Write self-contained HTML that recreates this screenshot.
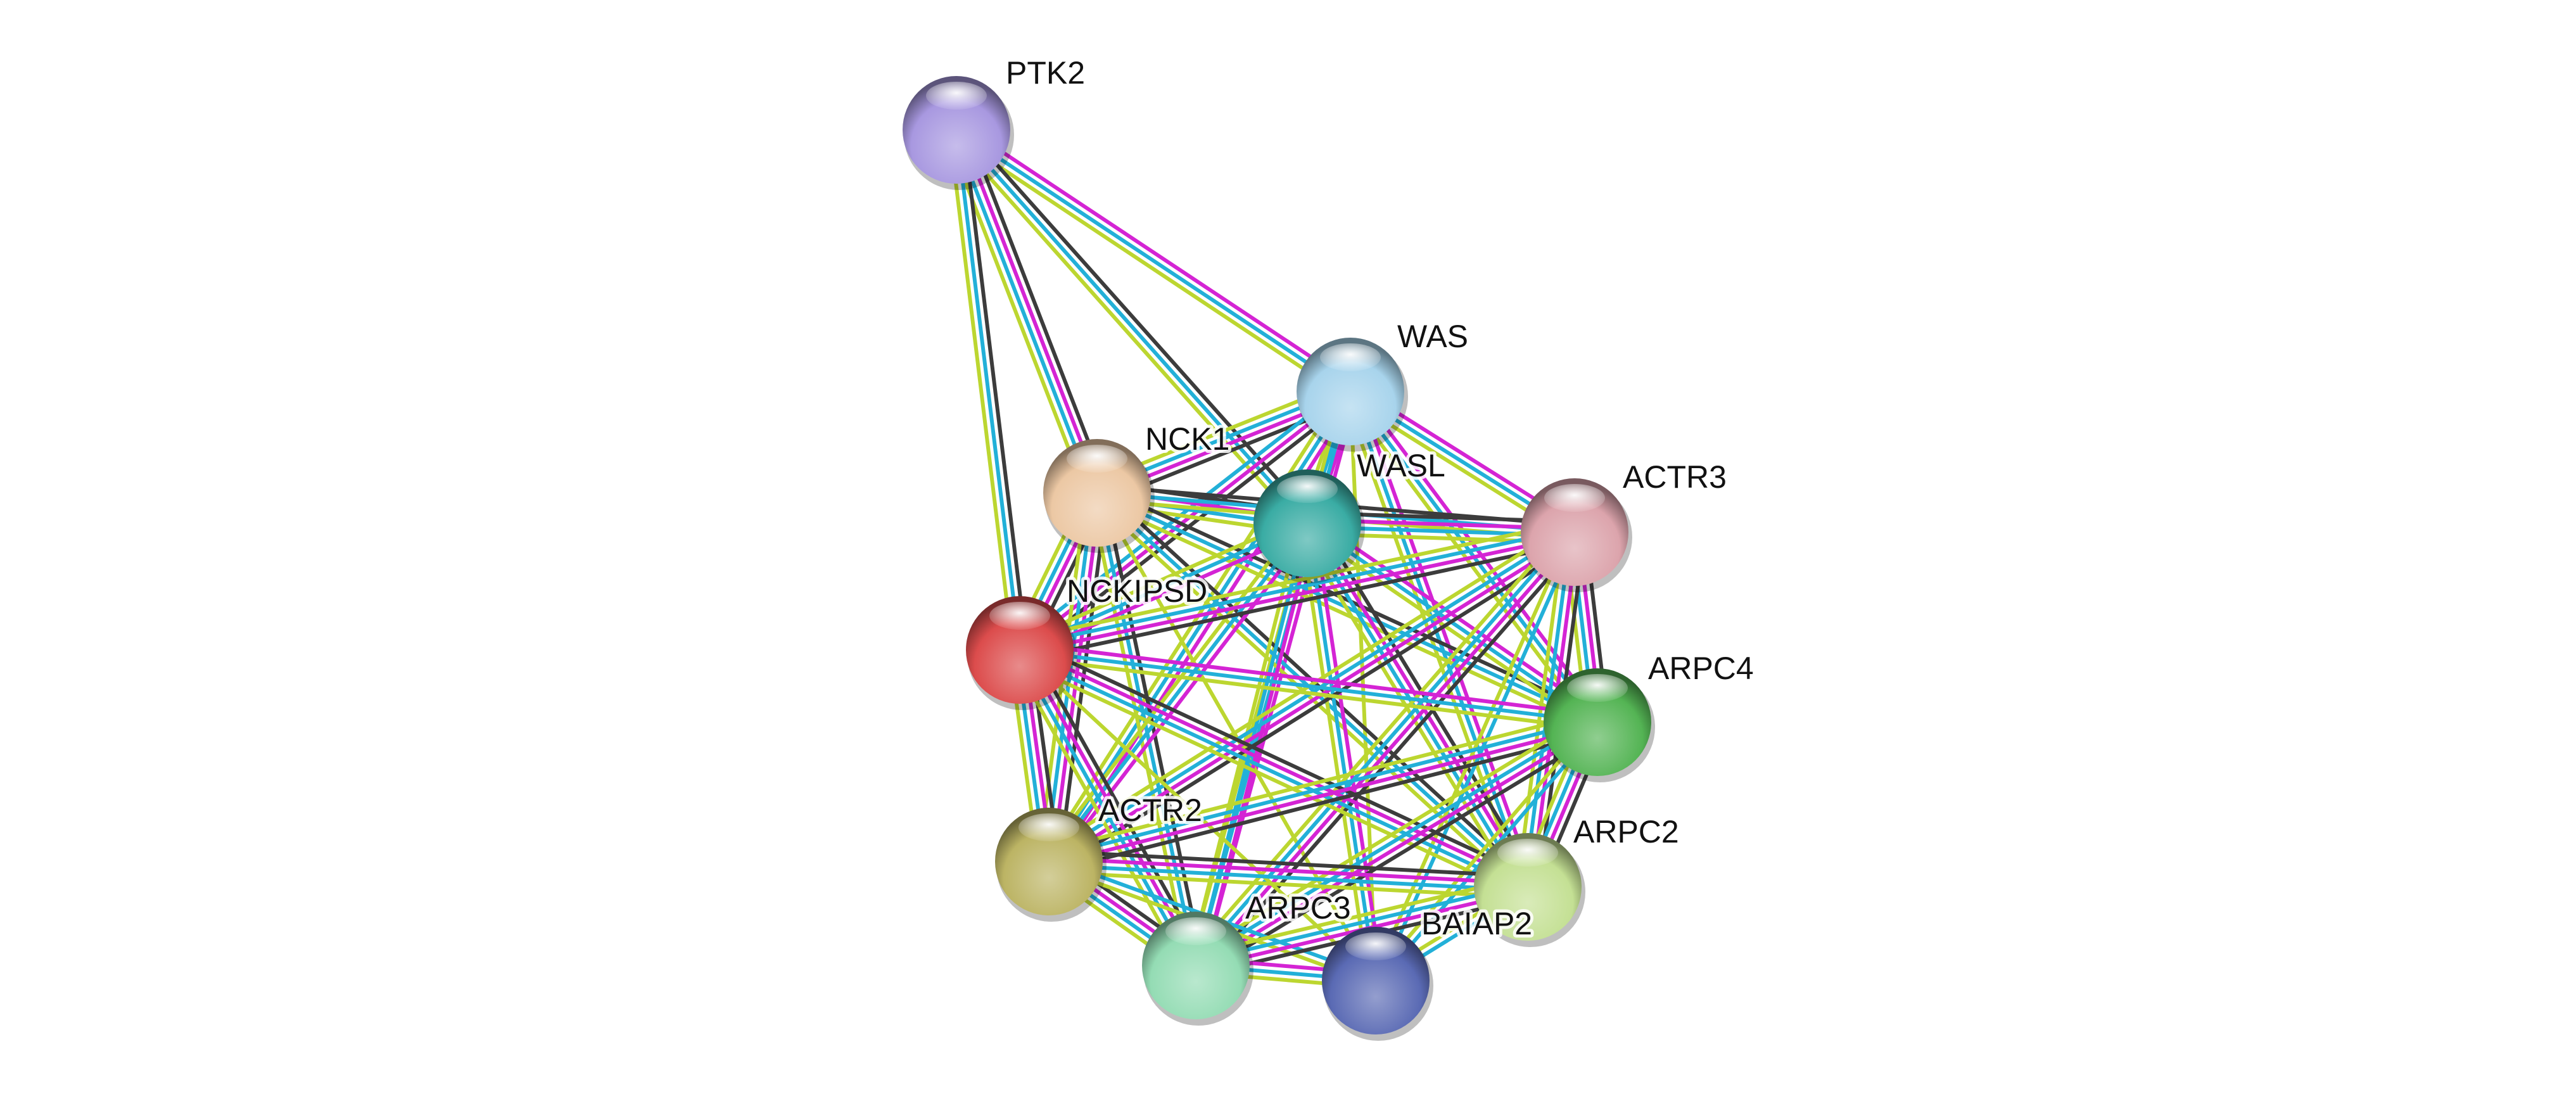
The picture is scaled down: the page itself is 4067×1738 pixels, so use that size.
<!DOCTYPE html>
<html><head><meta charset="utf-8"><style>
html,body{margin:0;padding:0;background:#fff;}
svg{display:block;}
text{font-family:"Liberation Sans",sans-serif;font-size:50px;fill:#111;paint-order:stroke;stroke:rgba(255,255,255,0.85);stroke-width:10px;stroke-linejoin:round;}
</style></head><body>
<svg id="s" width="4067" height="1738" viewBox="0 0 4067 1738" xmlns="http://www.w3.org/2000/svg">
<defs id="d"></defs>
<g id="e"></g>
<g id="n"></g>
<g id="t">
<text x="1588" y="132">PTK2</text>
<text x="2206" y="548">WAS</text>
<text x="1808" y="710">NCK1</text>
<text x="2142" y="752">WASL</text>
<text x="2562" y="770">ACTR3</text>
<text x="1684" y="950">NCKIPSD</text>
<text x="2602" y="1072">ARPC4</text>
<text x="1734" y="1296">ACTR2</text>
<text x="2484" y="1330">ARPC2</text>
<text x="1966" y="1450">ARPC3</text>
<text x="2244" y="1475">BAIAP2</text>
</g>
</svg>
<script>
var N={PTK2:[1510,205,'#a898e0'],WAS:[2132,618,'#a8d4ec'],NCK1:[1732,778,'#ecc8a4'],WASL:[2064,826,'#3aaca4'],ACTR3:[2486,840,'#dca4ac'],NCKIPSD:[1610,1026,'#dc4c4c'],ARPC4:[2522,1140,'#54b454'],ACTR2:[1656,1360,'#bcb464'],ARPC2:[2412,1400,'#c4e094'],ARPC3:[1888,1524,'#94dcb4'],BAIAP2:[2172,1548,'#5a6ab4']};
var Y='#bcd630',C='#22b0d8',M='#d424d4',K='#3c3c3c';
var E=[
['PTK2','WAS',[M,C,Y]],['PTK2','WASL',[K,C,Y]],['PTK2','NCK1',[K,M,C,Y]],['PTK2','NCKIPSD',[K,C,Y]],
['WAS','NCK1',[K,M,C,Y]],['WAS','WASL',[M,C,Y]],['WAS','ACTR3',[M,C,Y]],['WAS','NCKIPSD',[K,M,C]],['WAS','ARPC4',[M,C,Y]],['WAS','ACTR2',[M,C,Y]],['WAS','ARPC2',[M,C,Y]],['WAS','ARPC3',[M,C,Y]],['WAS','BAIAP2',[Y]],
['NCK1','WASL',[K,M,C,Y]],['NCK1','ACTR3',[K,C,Y]],['NCK1','NCKIPSD',[K,M,C,Y]],['NCK1','ARPC4',[K,C,Y]],['NCK1','ACTR2',[K,M,C,Y]],['NCK1','ARPC2',[K,C,Y]],['NCK1','ARPC3',[K,C,Y]],['NCK1','BAIAP2',[Y]],
['WASL','ACTR3',[K,M,C,Y]],['WASL','NCKIPSD',[M,C,Y]],['WASL','ARPC4',[M,C,Y]],['WASL','ACTR2',[M,C,Y]],['WASL','ARPC2',[K,M,C,Y]],['WASL','ARPC3',[M,C,Y]],['WASL','BAIAP2',[M,C,Y]],
['ACTR3','NCKIPSD',[K,M,C,Y]],['ACTR3','ARPC4',[K,M,C,Y]],['ACTR3','ACTR2',[K,M,C,Y]],['ACTR3','ARPC2',[K,M,C,Y]],['ACTR3','ARPC3',[K,M,C,Y]],['ACTR3','BAIAP2',[C,Y]],
['NCKIPSD','ARPC4',[M,C,Y]],['NCKIPSD','ACTR2',[K,M,C,Y]],['NCKIPSD','ARPC2',[K,M,C,Y]],['NCKIPSD','ARPC3',[K,M,C,Y]],['NCKIPSD','BAIAP2',[Y]],
['ARPC4','ACTR2',[K,M,C,Y]],['ARPC4','ARPC2',[K,M,C,Y]],['ARPC4','ARPC3',[K,M,C,Y]],['ARPC4','BAIAP2',[C,Y]],
['ACTR2','ARPC2',[K,M,C,Y]],['ACTR2','ARPC3',[K,M,C,Y]],['ACTR2','BAIAP2',[C,Y]],
['ARPC2','ARPC3',[K,M,C,Y]],['ARPC2','BAIAP2',[C,Y]],['ARPC3','BAIAP2',[M,C,Y]]
];
var ns='http://www.w3.org/2000/svg',eg=document.getElementById('e'),ng=document.getElementById('n'),d=document.getElementById('d');
function el(t,a,p){var e=document.createElementNS(ns,t);for(var k in a)e.setAttribute(k,a[k]);p.appendChild(e);return e;}
E.forEach(function(x){var a=N[x[0]],b=N[x[1]],dx=b[0]-a[0],dy=b[1]-a[1],L=Math.sqrt(dx*dx+dy*dy),px=-dy/L,py=dx/L,k=x[2].length;
x[2].forEach(function(c,i){var o=(i-(k-1)/2)*11;el('line',{x1:a[0]+px*o,y1:a[1]+py*o,x2:b[0]+px*o,y2:b[1]+py*o,stroke:c,'stroke-width':6},eg);});});
function shade(h,f){var r=parseInt(h.substr(1,2),16),g=parseInt(h.substr(3,2),16),b=parseInt(h.substr(5,2),16);
function m(v){return Math.max(0,Math.min(255,Math.round(f<0?v*(1+f):v+(255-v)*f)));}return 'rgb('+m(r)+','+m(g)+','+m(b)+')';}
var i=0;for(var k in N){var n=N[k];i++;
var g=el('radialGradient',{id:'g'+i,cx:'50%',cy:'65%',r:'60%'},d);
el('stop',{offset:'0%','stop-color':shade(n[2],0.35)},g);el('stop',{offset:'70%','stop-color':n[2]},g);el('stop',{offset:'100%','stop-color':shade(n[2],-0.45)},g);
el('ellipse',{cx:n[0]+4,cy:n[1]+8,rx:87,ry:87,fill:'rgba(0,0,0,0.25)'},ng);
el('circle',{cx:n[0],cy:n[1],r:85,fill:'url(#g'+i+')'},ng);
var h=el('radialGradient',{id:'h'+i,cx:'50%',cy:'40%',r:'60%'},d);
el('stop',{offset:'0%','stop-color':'#fff','stop-opacity':'0.95'},h);el('stop',{offset:'100%','stop-color':'#fff','stop-opacity':'0.1'},h);
el('ellipse',{cx:n[0],cy:n[1]-54,rx:48,ry:22,fill:'url(#h'+i+')'},ng);
}
</script>
</body></html>
